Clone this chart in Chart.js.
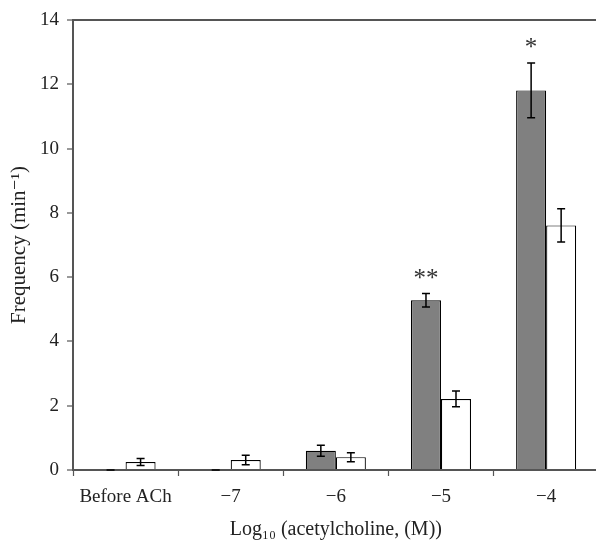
<!DOCTYPE html>
<html>
<head>
<meta charset="utf-8">
<script src="https://cdn.jsdelivr.net/npm/chart.js@4.4.1/dist/chart.umd.min.js"></script>
<style>
  html, body { margin: 0; padding: 0; background: #fff; overflow: hidden; }
  #wrap { width: 600px; height: 542px; position: relative; }
</style>
</head>
<body>
<div id="wrap"><canvas id="chart"></canvas></div>
<script>
// values
const categories = ['Before ACh', '\u22127', '\u22126', '\u22125', '\u22124'];
const greyValues = [0, 0, 0.6, 5.28, 11.81];
const greyErrors = [0, 0, 0.17, 0.21, 0.85];
const whiteValues = [0.25, 0.31, 0.40, 2.21, 7.61];
const whiteErrors = [0.11, 0.15, 0.14, 0.245, 0.52];
const stars = ['', '', '', '**', '*'];
const yTicks = [0, 2, 4, 6, 8, 10, 12, 14];

const axisColor = '#555';
const serif = "'Liberation Serif', 'DejaVu Serif', serif";

// error bars + significance stars, placed with the chart's own scales
const errorBarPlugin = {
    id: 'errorBars',
    afterDatasetsDraw(chart) {
        const ctx = chart.ctx;
        const yScale = chart.scales.y;
        const errs = [greyErrors, whiteErrors];
        ctx.save();
        ctx.strokeStyle = '#000';
        ctx.lineWidth = 1.5;
        for (let d = 0; d < 2; d++) {
            const meta = chart.getDatasetMeta(d);
            const vals = chart.data.datasets[d].data;
            meta.data.forEach(function(bar, i) {
                const x = bar.x;
                const top = yScale.getPixelForValue(vals[i] + errs[d][i]);
                const bottom = yScale.getPixelForValue(vals[i] - errs[d][i]);
                ctx.beginPath();
                ctx.moveTo(x, top); ctx.lineTo(x, bottom);
                ctx.moveTo(x - 4, top); ctx.lineTo(x + 4, top);
                ctx.moveTo(x - 4, bottom); ctx.lineTo(x + 4, bottom);
                ctx.stroke();
                if (d === 0 && stars[i]) {
                    ctx.fillStyle = '#333';
                    ctx.font = '25px ' + serif;
                    ctx.textAlign = 'center';
                    ctx.textBaseline = 'alphabetic';
                    ctx.fillText(stars[i], x, top - 8);
                }
            });
        }
        ctx.restore();
    }
};

new Chart(document.getElementById('chart').getContext('2d'), {
    type: 'bar',
    data: {
        labels: categories,
        datasets: [{
            data: greyValues,
            backgroundColor: '#808080',
            borderColor: '#000',
            borderWidth: 1.2,
            categoryPercentage: 0.571,
            barPercentage: 1
        }, {
            data: whiteValues,
            backgroundColor: '#fff',
            borderColor: '#000',
            borderWidth: 1.2,
            categoryPercentage: 0.571,
            barPercentage: 1
        }]
    },
    options: {
        responsive: true,
        maintainAspectRatio: false,
        animation: false,
        layout: { padding: { top: 20, right: 1.3, left: 0, bottom: 0 } },
        plugins: { legend: { display: false }, tooltip: { enabled: false } },
        scales: {
            x: {
                grid: {
                    offset: true,
                    color: 'transparent',
                    tickColor: axisColor,
                    tickLength: 6,
                    tickWidth: 1.2
                },
                border: { color: axisColor, width: 2 },
                ticks: { color: '#222', font: { family: serif, size: 19 }, padding: 10, maxRotation: 0 },
                title: {
                    display: true,
                    text: 'Log\u2081\u2080 (acetylcholine, (M))',
                    color: '#222',
                    font: { family: serif, size: 20 },
                    padding: { top: 0, bottom: 0 }
                },
                afterFit(scale) { scale.height = 72; }
            },
            y: {
                min: 0,
                max: 14,
                afterBuildTicks(scale) { scale.ticks = yTicks.map(v => ({ value: v })); },
                grid: {
                    color: ctx => (ctx.tick && ctx.tick.value === 14) ? axisColor : 'transparent',
                    lineWidth: 2,
                    tickColor: axisColor,
                    tickLength: 6,
                    tickWidth: 1.2
                },
                border: { color: axisColor, width: 2 },
                ticks: { color: '#222', font: { family: serif, size: 19 }, padding: 8 },
                title: {
                    display: true,
                    text: 'Frequency (min\u207B\u00B9)',
                    color: '#222',
                    font: { family: serif, size: 21 },
                    padding: { top: 7, bottom: 0 }
                },
                afterFit(scale) { scale.width = 73; }
            }
        }
    },
    plugins: [errorBarPlugin]
});
</script>
</body>
</html>
